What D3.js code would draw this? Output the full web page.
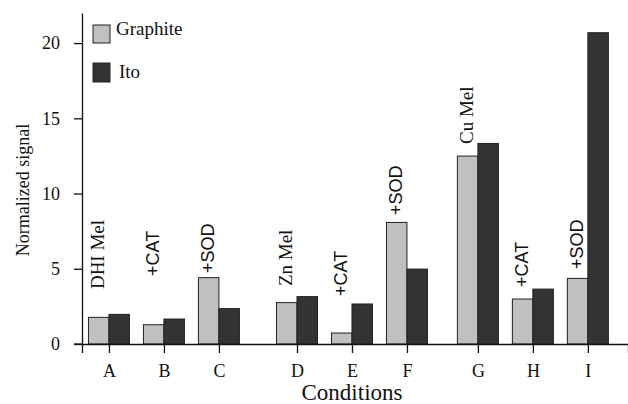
<!DOCTYPE html>
<html lang="en">
<head>
<meta charset="UTF-8">
<title>Normalized signal</title>
<script src="https://cdnjs.cloudflare.com/ajax/libs/d3/7.8.5/d3.min.js"></script>
<style>
  body { margin: 0; background: #fff; }
  svg { display: block; }
  text { font-family: "Liberation Serif", "Times New Roman", serif; fill: #111; }
  .sans { font-family: "Liberation Sans", Arial, sans-serif; }
</style>
</head>
<body>
<svg width="628" height="404"></svg>
<script>
    // data
    const categories = ["A", "B", "C", "D", "E", "F", "G", "H", "I"];
    const groupOf = [0, 0, 0, 1, 1, 1, 2, 2, 2];
    const graphite = [1.77, 1.28, 4.41, 2.75, 0.73, 8.08, 12.49, 2.99, 4.36];
    const ito = [1.97, 1.66, 2.35, 3.15, 2.66, 4.98, 13.33, 3.65, 20.69];
    const notes = ["DHI  Mel", "+CAT", "+SOD", "Zn Mel", "+CAT", "+SOD", "Cu Mel", "+CAT", "+SOD"];
    const noteAt = [3.65, 4.52, 4.72, 3.85, 3.19, 8.57, 13.29, 3.79, 4.98];
    const yTicks = [0, 5, 10, 15, 20];

    const svg = d3.select("svg");

    // groups are spread apart a bit more than bars inside a group
    const groupShift = [0, 0.42, 0.71];
    const pos = categories.map((c, i) => i + 1 + groupShift[groupOf[i]]);

    const x = d3.scaleLinear().domain([0.51, 10.44]).range([82, 628]);
    const y = d3.scaleLinear().domain([0, 22]).range([344, 13]);
    const barW = 20.5;

    // bars
    const bars = svg.append("g");
    bars.selectAll("rect.g")
        .data(graphite)
        .enter()
        .append("rect")
        .attr("class", "g")
        .attr("x", (d, i) => x(pos[i]) - barW)
        .attr("y", d => y(d))
        .attr("width", barW)
        .attr("height", d => y(0) - y(d))
        .attr("fill", "#c0c0c0")
        .attr("stroke", "#222")
        .attr("stroke-width", 1);

    bars.selectAll("rect.i")
        .data(ito)
        .enter()
        .append("rect")
        .attr("class", "i")
        .attr("x", (d, i) => x(pos[i]))
        .attr("y", d => y(d))
        .attr("width", barW)
        .attr("height", d => y(0) - y(d))
        .attr("fill", "#333333")
        .attr("stroke", "#222")
        .attr("stroke-width", 1);

    // y axis
    const yAxis = svg.append("g")
        .attr("transform", "translate(82,0)")
        .call(d3.axisLeft(y).tickValues(yTicks).tickSize(8).tickPadding(14).tickSizeOuter(0));
    yAxis.selectAll("text").attr("font-size", 18).attr("font-family", "Liberation Serif").attr("fill", "#111");
    yAxis.selectAll("line, path").attr("stroke", "#111").attr("stroke-width", 1.3);

    // x axis
    const xAxis = svg.append("g")
        .attr("transform", "translate(0,344)")
        .call(d3.axisBottom(x).tickValues(pos).tickFormat((d, i) => categories[i]).tickSize(9).tickSizeOuter(9).tickPadding(11));
    xAxis.selectAll("text").attr("font-size", 18).attr("font-family", "Liberation Serif").attr("fill", "#111");
    xAxis.selectAll("line, path").attr("stroke", "#111").attr("stroke-width", 1.3);

    svg.append("line")
        .attr("x1", 74).attr("x2", 82)
        .attr("y1", y(0)).attr("y2", y(0))
        .attr("stroke", "#111").attr("stroke-width", 1.3);

    // rotated notes above each pair
    svg.append("g").selectAll("text")
        .data(notes)
        .enter()
        .append("text")
        .attr("class", d => d.startsWith("+") ? "sans" : null)
        .attr("transform", (d, i) => `translate(${x(pos[i]) - 5},${y(noteAt[i])}) rotate(-90)`)
        .attr("font-size", d => d.startsWith("+") ? 18 : 19)
        .text(d => d);

    // axis titles
    svg.append("text")
        .attr("x", 352).attr("y", 400)
        .attr("text-anchor", "middle")
        .attr("font-size", 23)
        .text("Conditions");

    svg.append("text")
        .attr("transform", "translate(29,190) rotate(-90)")
        .attr("text-anchor", "middle")
        .attr("font-size", 18)
        .text("Normalized signal");

    // legend
    const legend = svg.append("g");
    legend.append("rect").attr("x", 93).attr("y", 25).attr("width", 17).attr("height", 18)
        .attr("fill", "#c0c0c0").attr("stroke", "#222");
    legend.append("text").attr("x", 116).attr("y", 35).attr("font-size", 19).text("Graphite");
    legend.append("rect").attr("x", 93).attr("y", 63).attr("width", 17).attr("height", 19)
        .attr("fill", "#333333").attr("stroke", "#222");
    legend.append("text").attr("x", 119).attr("y", 78).attr("font-size", 19).text("Ito");
</script>
</body>
</html>
